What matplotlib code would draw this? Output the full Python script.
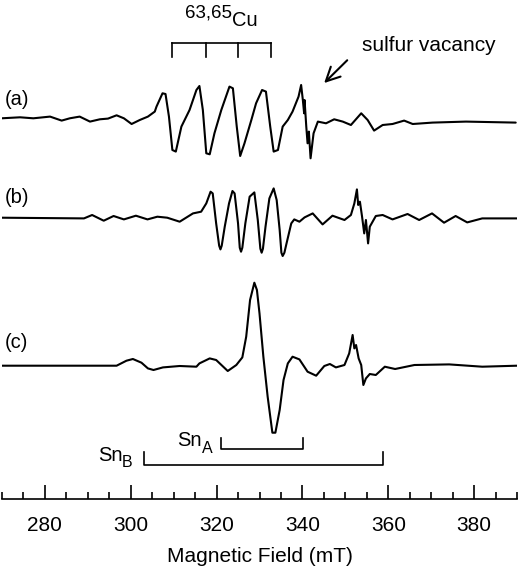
import matplotlib
matplotlib.use("Agg")
import matplotlib.pyplot as plt
import numpy as np

plt.rcParams['font.family'] = ['Liberation Sans', 'DejaVu Sans']

# spectra: field (mT) and signal (arb. units)
field_a = [269.9, 274.2, 277.3, 281.2, 283.9, 285.8, 288.1, 290.5, 292.8, 294.7,
           296.7, 298.4, 300.2, 302.1, 304.0, 305.6, 306.0, 307.4, 308.1, 308.9,
           309.7, 310.5, 311.8, 313.7, 315.3, 316.0, 316.8, 317.6, 318.4, 319.5,
           321.1, 323.0, 323.8, 324.7, 325.5, 326.5, 328.1, 329.2, 330.6, 331.5,
           332.5, 333.3, 334.3, 335.4, 336.6, 337.7, 339.1, 339.7, 340.1, 340.4,
           340.5, 340.9, 341.2, 341.5, 341.9, 342.6, 343.6, 345.5, 347.4, 349.4,
           351.3, 353.7, 355.2, 356.7, 358.7, 361.0, 363.7, 365.7, 370.3, 378.1,
           389.7]
signal_a = [0, 1, 0, 1.7, -2.3, 0, 1.7, -3.3, -1, -0.3,
            3, 0, -5.7, -1.7, 1.7, 6.7, 11.7, 25, 24.3, 1.7,
            -31.7, -33.3, -8.3, 8.3, 28.3, 32.3, 8.3, -35, -36, -15,
            8.3, 31.7, 30, -8.3, -37.7, -25, -1.7, 15, 28.3, 26.7,
            -8.3, -33.3, -31.7, -8.3, -1.7, 6.7, 21.7, 33.3, 18.3, 5,
            18.3, -8.3, -25, -13.3, -40, -15, -3.3, -5, -1, -3.3,
            -6.7, 5, -1.7, -12.3, -6.7, -5.7, -2.3, -5.7, -4.3, -3.3,
            -4.3]

field_b = [269.7, 289.1, 291.0, 293.7, 296.0, 298.4, 301.2, 303.9, 306.2, 308.5,
           311.4, 314.5, 316.4, 317.6, 318.6, 319.1, 319.9, 320.6, 320.9, 321.2,
           321.9, 322.9, 323.7, 324.2, 325.0, 325.4, 325.7, 326.0, 326.7, 327.7,
           328.8, 329.6, 330.2, 330.5, 330.8, 331.4, 332.3, 333.3, 334.0, 334.7,
           335.1, 335.4, 335.8, 336.3, 337.4, 338.1, 339.3, 340.5, 342.4, 344.7,
           347.0, 349.8, 351.3, 352.1, 352.7, 353.0, 353.4, 353.9, 354.4, 354.8,
           355.3, 355.7, 357.1, 358.7, 361.0, 364.5, 367.2, 370.2, 373.0, 375.7,
           378.4, 381.9, 390.0]
signal_b = [0, -0.7, 2.7, -3, 1.7, -1.7, 2, -1.7, 1, 0,
            -4, 4.3, 6, 14.3, 26, 24.3, -5.7, -28, -31.7, -28,
            -9, 14.3, 26.7, 24.3, -5.7, -30, -34, -30, -5.7, 21,
            25.3, -2.3, -31, -35, -31, -9, 19.3, 29.3, 17.7, -12.3,
            -35, -38.3, -35, -25.7, -5.7, -1.7, -4, 0.3, 4.3, -6.7,
            2, -2.3, 2.7, 14.3, 28.3, 12.7, 16, 1, -15.7, -2.3,
            -25.7, -9, 1.7, 2.7, -1.7, 3.7, -2.3, 4.3, -5, 1.7,
            -4.7, -0.7, -0.7]

field_c = [269.7, 296.7, 299.0, 300.5, 302.5, 304.0, 305.3, 307.5, 311.4, 315.3,
           316.0, 318.4, 319.9, 322.6, 324.6, 326.0, 326.9, 327.8, 328.8, 329.4,
           330.0, 330.9, 331.9, 333.0, 333.7, 334.7, 335.6, 336.6, 337.7, 339.3,
           341.2, 343.2, 345.1, 346.4, 347.8, 349.8, 350.9, 351.7, 352.1, 352.5,
           353.1, 353.7, 354.2, 354.8, 355.7, 357.1, 359.2, 361.6, 366.1, 374.2,
           381.9, 390.0]
signal_c = [0, 0, 5, 6.7, 3, -2.7, -4.3, -1.7, -0.3, -1,
            2.3, 7.3, 5.7, -5.3, 0.7, 8.3, 29, 65.7, 83, 75.7,
            52.3, 9, -31, -67, -67, -44.3, -14.3, 2.3, 9, 6.3,
            -6, -10, -0.3, 1.7, -1.7, 0.7, 12.3, 30.7, 17.3, 20.7,
            7.3, 0.7, -19.3, -12.7, -8.3, -9.3, -1, -3.3, 0.7, 1.3,
            -1, 0]

trace_labels = ['(a)', '(b)', '(c)']
cu_lines = [309.6, 317.6, 325.0, 332.7]
sn_a = [321.1, 340.2]
sn_b = [303.0, 358.7]

fig = plt.figure(figsize=(5.2, 5.69), dpi=100)
ax = fig.add_axes([2 / 520, 70 / 569, 515 / 520, 499 / 569])
ax.set_xlim(270, 390)
ax.set_ylim(0, 499)

offsets = [380.7, 281.3, 133.3]
traces = [(field_a, signal_a), (field_b, signal_b), (field_c, signal_c)]
label_y = [400, 302, 157]
for (f, s), off, lab, ly in zip(traces, offsets, trace_labels, label_y):
    ax.plot(f, np.array(s) + off, color='black', lw=1.5,
            solid_joinstyle='round', solid_capstyle='round')
    ax.text(270.7, ly, lab, fontsize=14.5, ha='left', va='center')

# Cu hyperfine stick diagram
ax.plot([cu_lines[0], cu_lines[-1]], [456.3, 456.3], color='black', lw=1.2)
for c in cu_lines:
    ax.plot([c, c], [441.7, 456.3], color='black', lw=1.2)
ax.text(323.5, 482, '63,65', fontsize=13.5, ha='right', va='baseline')
ax.text(323.5, 473, 'Cu', fontsize=14.5, ha='left', va='baseline')

# sulfur vacancy arrow
ax.annotate('', xy=(344.6, 414), xytext=(350.9, 440.7),
            arrowprops=dict(arrowstyle='->,head_length=0.5,head_width=0.25',
                            color='black', lw=1.5, mutation_scale=20))
ax.text(353.8, 448.3, 'sulfur vacancy', fontsize=15, ha='left', va='baseline')

# Sn brackets
ax.plot([sn_a[0], sn_a[0], sn_a[1], sn_a[1]], [60.7, 49.7, 49.7, 60.7],
        color='black', lw=1.2)
ax.text(316.6, 53, 'Sn', fontsize=14.5, ha='right', va='baseline')
ax.text(316.6, 46, 'A', fontsize=11.5, ha='left', va='baseline')
ax.plot([sn_b[0], sn_b[0], sn_b[1], sn_b[1]], [46.7, 34, 34, 46.7],
        color='black', lw=1.2)
ax.text(298.0, 38, 'Sn', fontsize=14.5, ha='right', va='baseline')
ax.text(298.0, 32, 'B', fontsize=11.5, ha='left', va='baseline')

for side in ['top', 'left', 'right']:
    ax.spines[side].set_visible(False)
ax.spines['bottom'].set_linewidth(1.2)
ax.set_yticks([])
ax.set_xticks(np.arange(280, 390, 20))
ax.set_xticks(np.arange(270, 391, 5), minor=True)
ax.tick_params(axis='x', which='major', direction='in', length=10, width=1.2,
               labelsize=15, pad=12)
ax.tick_params(axis='x', which='minor', direction='in', length=5, width=1.2)
ax.set_xlabel('Magnetic Field (mT)', fontsize=15, labelpad=9)
ax.patch.set_visible(False)

fig.savefig('out.png', dpi=100)
